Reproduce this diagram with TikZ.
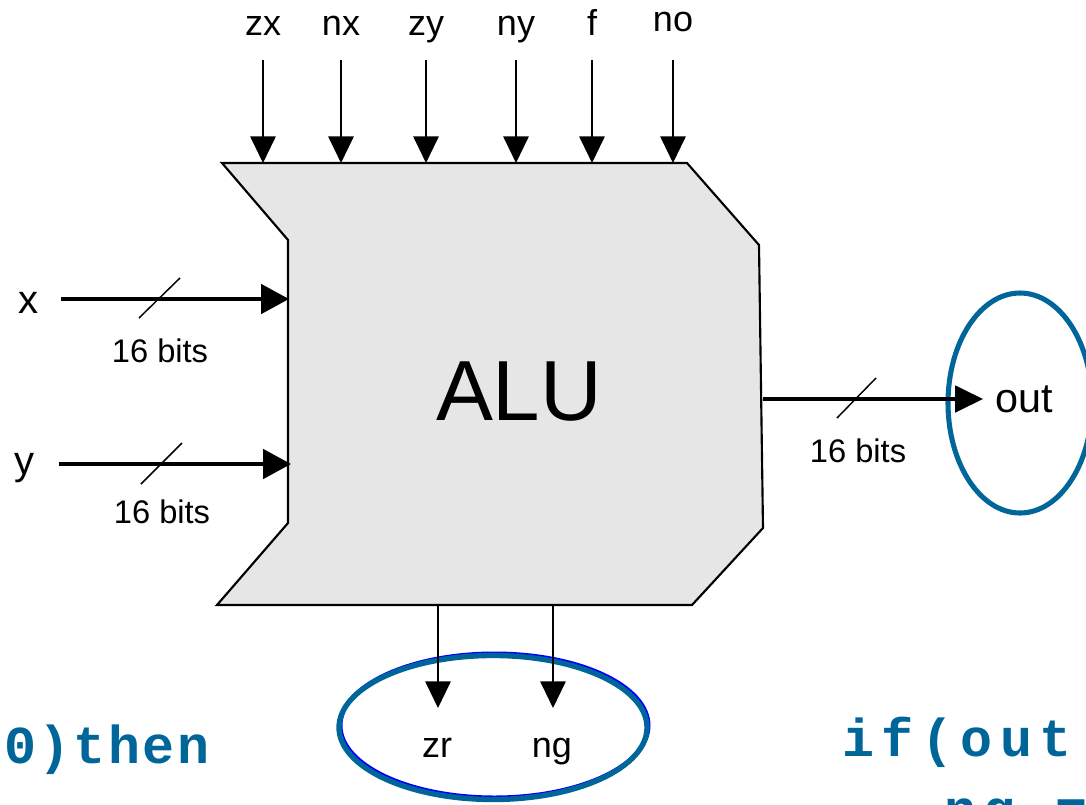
\documentclass[tikz,border=0pt]{standalone}
\usepackage{fontspec}
\setmainfont{Liberation Sans}
\newfontfamily\codeA[LetterSpace=5]{Liberation Mono}
\newfontfamily\codeB[LetterSpace=14]{Liberation Mono}
\usetikzlibrary{arrows.meta}
\definecolor{alufill}{RGB}{230,230,230}
\definecolor{teal}{RGB}{0,102,153}
\begin{document}
\begin{tikzpicture}[x=0.75pt,y=-0.75pt,
  lbl/.style={inner sep=0pt,anchor=base,font=\fontsize{27}{30}\selectfont},
  bits/.style={inner sep=0pt,anchor=base,font=\fontsize{24.5}{28}\selectfont},
  ctl/.style={line width=1.5pt,-{Triangle[length=20pt,width=19pt]}},
  bus/.style={line width=3pt,-{Triangle[length=21pt,width=22pt]}},
  outbus/.style={line width=2.3pt,-{Triangle[length=21pt,width=20pt]}},
  slash/.style={line width=1.1pt},
  code/.style={inner sep=0pt,anchor=base west,text=teal}]
\useasboundingbox (0,0) rectangle (1086,804);
% ALU body
\draw[fill=alufill,line width=1.6pt,line join=miter]
  (222,163) -- (687,163) -- (759,245) -- (763,528) -- (692,605)
  -- (217,605) -- (288,523) -- (288,240) -- cycle;
\node[inner sep=0pt,anchor=base,font=\fontsize{64}{70}\selectfont] (alu) at (519,420) {ALU};
% top control inputs
\foreach \n/\t/\xx/\by in {zx/zx/263/35, nx/nx/341/35, zy/zy/426/35, ny/ny/516/35, f/f/592/35, no/no/673/31}{
  \node[lbl] (l\n) at (\xx,\by) {\t};
  \coordinate (s\n) at (\xx,60);
  \coordinate (e\n) at (\xx,163);
  \draw[ctl] (s\n) -- (e\n);
}
% x and y inputs
\node[lbl,font=\fontsize{30}{32}\selectfont] (lx) at (28,313) {x};
\node[lbl,font=\fontsize{30}{32}\selectfont] (ly) at (25,474) {y};
\coordinate (xs) at (61,299);
\coordinate (xe) at (289,299);
\coordinate (ys) at (59,464);
\coordinate (ye) at (291,464);
\draw[bus] (xs) -- (xe);
\draw[bus] (ys) -- (ye);
\coordinate (xa) at (139,318); \coordinate (xb) at (180,278);
\coordinate (ya) at (141,484); \coordinate (yb) at (182,443);
\draw[slash] (xa) -- (xb);
\draw[slash] (ya) -- (yb);
\node[bits] (bx) at (160,362) {16 bits};
\node[bits] (by) at (162,523) {16 bits};
% output
\draw[teal,line width=3.8pt] (1020,403) ellipse [x radius=72,y radius=110];
\coordinate (os) at (763,399);
\coordinate (oe) at (983,399);
\draw[outbus] (os) -- (oe);
\coordinate (oa) at (837,418); \coordinate (ob) at (876,378);
\draw[slash] (oa) -- (ob);
\node[bits] (bo) at (858,462) {16 bits};
\node[inner sep=0pt,anchor=base west,font=\fontsize{31}{34}\selectfont] (out) at (995,412) {out};
% bottom outputs
\draw[blue,line width=3pt] (494.5,725.5) ellipse [x radius=154,y radius=72];
\draw[teal,line width=4pt] (493,727.5) ellipse [x radius=154,y radius=72];
\coordinate (zs) at (438,605);
\coordinate (ze) at (438,708);
\coordinate (ns) at (553,605);
\coordinate (ne) at (553,708);
\draw[ctl] (zs) -- (ze);
\draw[ctl] (ns) -- (ne);
\node[lbl] (zr) at (437,757) {zr};
\node[lbl] (ng) at (552,757) {ng};
% code fragments
\node[code,font=\codeA\bfseries\fontsize{40}{46}\selectfont] (c1) at (4,763) {0)then};
\node[code,font=\codeB\bfseries\fontsize{40}{46}\selectfont] (c2) at (842,756) {if(out};
\node[code,font=\codeB\bfseries\fontsize{40}{46}\selectfont] (c3) at (944,827) {ng =};
\end{tikzpicture}
\end{document}
